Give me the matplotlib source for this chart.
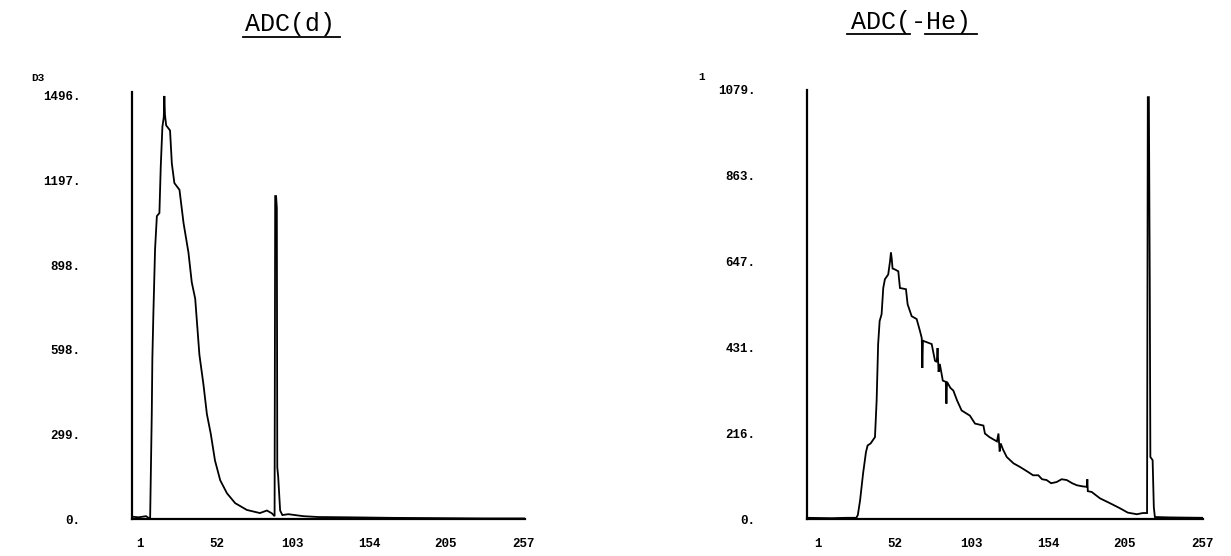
import matplotlib
matplotlib.use("Agg")
import matplotlib.pyplot as plt
from matplotlib.lines import Line2D

# ---------------- data ----------------
left_title = "ADC(d)"
right_title = "ADC(-He)"

left_yticks = [0, 299, 598, 898, 1197, 1496]
left_yticklabels = ["0.", "299.", "598.", "898.", "1197.", "1496."]
right_yticks = [0, 216, 431, 647, 863, 1079]
right_yticklabels = ["0.", "216.", "431.", "647.", "863.", "1079."]
xticks = [1, 52, 103, 154, 205, 257]
xticklabels = ["1", "52", "103", "154", "205", "257"]

left_ch = [-4, 0, 5, 7.7, 8.8, 9.2, 9.9, 11, 12.2, 13.9, 14.8, 15.9, 16.8, 17.2,
           17.6, 18.4, 21, 22.2, 23.9, 27.3, 30, 33.3, 35.5, 37.8, 40.6, 43.3,
           45.6, 48.2, 51, 54.5, 59, 64.5, 72.3, 81, 85.7, 89, 90.8, 91.2, 91.8,
           92.3, 92.6, 93.2, 94.5, 96, 100, 110, 120, 140, 170, 200, 230, 258]
left_val = [8, 6, 10, 0, 371, 569, 732, 954, 1071, 1082, 1247, 1387, 1420, 1496,
            1430, 1392, 1374, 1257, 1188, 1164, 1047, 942, 837, 779, 581, 476,
            371, 301, 207, 137, 91, 56, 32, 21, 30, 20, 10, 1142, 1142,
            1100, 183, 150, 30, 14, 17, 10, 7, 6, 4, 3, 2, 2]

right_ch = [-6, 10, 20, 26.5, 27.5, 29, 31, 32.9, 34, 36, 38.9, 40, 41, 42, 43.3,
            44.4, 45.5, 47.7, 48.9, 49.5, 50, 50.6, 52, 54.4, 55.5, 59.5, 60.6,
            63.3, 66.6, 68.8, 70, 70.4, 70.8, 71, 76.6, 78.8, 80, 80.5, 81.2, 82,
            84, 86, 86.4, 86.8, 89, 91, 93.5, 96.5, 102, 105.4, 111, 112, 115,
            120, 121, 121.8, 122.5, 124, 126.5, 131, 135.3, 140.8, 144, 147.5,
            150, 153, 156, 159.7, 163, 166.4, 170, 173, 177, 179.8, 180.1, 180.4,
            183, 188.5, 195, 201.8, 207, 213, 217, 219.8, 220.3, 221, 221.6, 222,
            223.5, 224.3, 225, 235, 257]
right_val = [3, 2, 3, 3, 10, 47, 115, 168, 185, 190, 206, 298, 440, 498, 515,
             581, 603, 615, 648, 670, 656, 630, 628, 623, 581, 578, 540,
             510, 503, 473, 455, 380, 450, 448, 440, 398, 395, 430, 370, 390,
             348, 345, 290, 345, 330, 323, 298, 273, 260, 240, 235, 215, 206,
             195, 215, 170, 190, 175, 156, 140, 131, 118, 110, 110,
             100, 98, 90, 93, 100, 98, 90, 85, 82, 81, 100, 70,
             68, 52, 40, 27, 16, 12, 15, 15, 1061, 1061, 600, 156,
             148, 30, 5, 4, 3]

# ---------------- figure ----------------
W, H = 1231, 556
fig = plt.figure(figsize=(W / 100, H / 100), dpi=100)
fig.patch.set_facecolor("white")


def fx(px):
    return px / W


def fy(py):
    return 1 - py / H


mono = "Liberation Mono"


def make_axes(rect, ch, val, xlim, ylim, yticks, yticklabels):
    ax = fig.add_axes(rect)
    ax.plot(ch, val, color="black", lw=1.3, solid_joinstyle="miter")
    ax.set_xlim(*xlim)
    ax.set_ylim(*ylim)
    for s in ["top", "right"]:
        ax.spines[s].set_visible(False)
    for s in ["left", "bottom"]:
        ax.spines[s].set_linewidth(1.6)
        ax.spines[s].set_color("black")
    ax.set_xticks(xticks)
    ax.set_xticklabels(xticklabels, fontfamily=mono, fontsize=9, fontweight="bold")
    ax.set_yticks(yticks)
    ax.set_yticklabels(yticklabels, fontfamily=mono, fontsize=9, fontweight="bold")
    ax.tick_params(axis="x", length=0, pad=14)
    ax.tick_params(axis="y", length=0, pad=37)
    ax.patch.set_alpha(0)
    return ax


axL = make_axes([fx(131.7), fy(519), fx(525) - fx(131.7), fy(92) - fy(519)],
                left_ch, left_val, (-4.6, 258), (0, 1510),
                left_yticks, left_yticklabels)
axR = make_axes([fx(807), fy(519), fx(1203) - fx(807), fy(90) - fy(519)],
                right_ch, right_val, (-6.3, 257), (0, 1079),
                right_yticks, right_yticklabels)

# titles with underline
fig.text(fx(290), fy(24), left_title, fontfamily=mono, fontsize=18,
         ha="center", va="center")
fig.text(fx(911), fy(22), right_title, fontfamily=mono, fontsize=18,
         ha="center", va="center")
fig.add_artist(Line2D([fx(243), fx(340)], [fy(37), fy(37)], color="black",
                      lw=1.3, transform=fig.transFigure))
fig.add_artist(Line2D([fx(847), fx(910)], [fy(34), fy(34)], color="black",
                      lw=1.3, transform=fig.transFigure))
fig.add_artist(Line2D([fx(925), fx(977)], [fy(34), fy(34)], color="black",
                      lw=1.3, transform=fig.transFigure))

# corner labels
fig.text(fx(38), fy(78), "D3", fontfamily=mono, fontsize=8, fontweight="bold",
         ha="center", va="center")
fig.text(fx(702), fy(77), "1", fontfamily=mono, fontsize=8, fontweight="bold",
         ha="center", va="center")

fig.savefig("out.png", dpi=100, facecolor="white")
